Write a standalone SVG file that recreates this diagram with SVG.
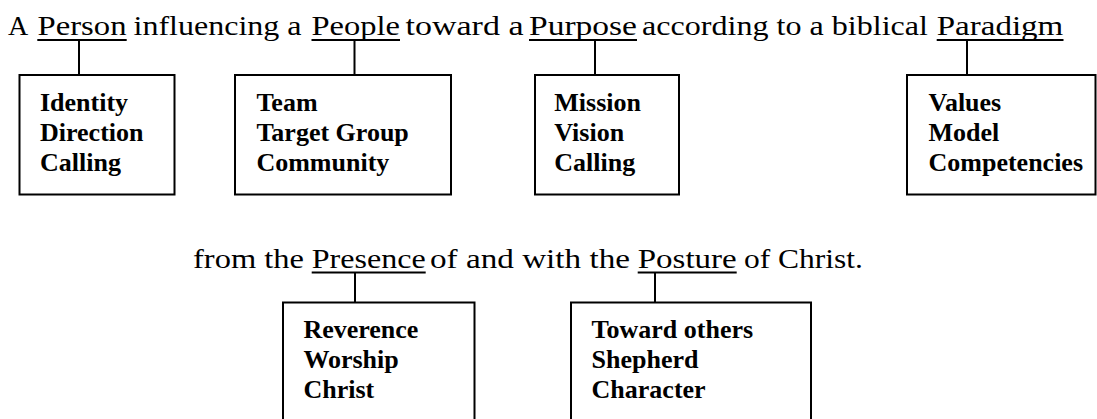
<svg xmlns="http://www.w3.org/2000/svg" width="1097" height="419" viewBox="0 0 1097 419">
<style>
.t{font-family:"Liberation Serif","Times New Roman",serif;font-size:28px;fill:#000}
.b{font-family:"Liberation Serif","Times New Roman",serif;font-size:26px;font-weight:bold;fill:#000}
.box{fill:#fff;stroke:#000;stroke-width:2}
.ul{stroke:#000;stroke-width:1.8}
.c{stroke:#000;stroke-width:2;fill:none}
</style>
<rect width="1097" height="419" fill="#fff"/>
<g id="title1">
<text class="t" y="35"><tspan x="8">A</tspan><tspan x="37.5" textLength="89" lengthAdjust="spacingAndGlyphs">Person</tspan><tspan x="133.5" textLength="168" lengthAdjust="spacingAndGlyphs">influencing a</tspan><tspan x="311.5" textLength="88.5" lengthAdjust="spacingAndGlyphs">People</tspan><tspan x="405.5" textLength="118" lengthAdjust="spacingAndGlyphs">toward a</tspan><tspan x="529" textLength="108" lengthAdjust="spacingAndGlyphs">Purpose</tspan><tspan x="642" textLength="286" lengthAdjust="spacingAndGlyphs">according to a biblical</tspan><tspan x="936.7" textLength="126.6" lengthAdjust="spacingAndGlyphs">Paradigm</tspan></text>
<line class="ul" x1="37.3" y1="40" x2="126.7" y2="40"/>
<line class="ul" x1="311.5" y1="40" x2="400" y2="40"/>
<line class="ul" x1="529" y1="40" x2="637" y2="40"/>
<line class="ul" x1="936.7" y1="40" x2="1063.5" y2="40"/>
</g>
<g id="title2">
<text class="t" y="267.5"><tspan x="193" textLength="111" lengthAdjust="spacingAndGlyphs">from the</tspan><tspan x="311.7" textLength="114" lengthAdjust="spacingAndGlyphs">Presence</tspan><tspan x="430" textLength="200" lengthAdjust="spacingAndGlyphs">of and with the</tspan><tspan x="637.7" textLength="99" lengthAdjust="spacingAndGlyphs">Posture</tspan><tspan x="744" textLength="119" lengthAdjust="spacingAndGlyphs">of Christ.</tspan></text>
<line class="ul" x1="311.7" y1="272.5" x2="425.7" y2="272.5"/>
<line class="ul" x1="637.7" y1="272.5" x2="736.7" y2="272.5"/>
</g>
<g id="connectors">
<line class="c" x1="79" y1="40" x2="79" y2="75"/>
<line class="c" x1="354.5" y1="40" x2="354.5" y2="75"/>
<line class="c" x1="595" y1="40" x2="595" y2="75"/>
<line class="c" x1="967" y1="40" x2="967" y2="75"/>
<line class="c" x1="355" y1="272.5" x2="355" y2="302.5"/>
<line class="c" x1="655" y1="272.5" x2="655" y2="302.5"/>
</g>
<g id="box-person">
<rect class="box" x="19.5" y="75" width="155" height="119.5"/>
<text class="b"><tspan x="40" y="111">Identity</tspan><tspan x="40" y="141">Direction</tspan><tspan x="40" y="171">Calling</tspan></text>
</g>
<g id="box-people">
<rect class="box" x="235" y="75" width="216" height="119.5"/>
<text class="b"><tspan x="256.4" y="111">Team</tspan><tspan x="256.4" y="141">Target Group</tspan><tspan x="256.4" y="171">Community</tspan></text>
</g>
<g id="box-purpose">
<rect class="box" x="535" y="75" width="144" height="119.5"/>
<text class="b"><tspan x="554.3" y="111">Mission</tspan><tspan x="554.3" y="141">Vision</tspan><tspan x="554.3" y="171">Calling</tspan></text>
</g>
<g id="box-paradigm">
<rect class="box" x="907" y="75" width="188.5" height="119.5"/>
<text class="b"><tspan x="928.5" y="111">Values</tspan><tspan x="928.5" y="141">Model</tspan><tspan x="928.5" y="171">Competencies</tspan></text>
</g>
<g id="box-presence">
<rect class="box" x="283" y="302.5" width="191.5" height="125"/>
<text class="b"><tspan x="303.4" y="338">Reverence</tspan><tspan x="303.4" y="368">Worship</tspan><tspan x="303.4" y="398">Christ</tspan></text>
</g>
<g id="box-posture">
<rect class="box" x="571" y="302.5" width="240" height="125"/>
<text class="b"><tspan x="591.6" y="338">Toward others</tspan><tspan x="591.6" y="368">Shepherd</tspan><tspan x="591.6" y="398">Character</tspan></text>
</g>
</svg>
